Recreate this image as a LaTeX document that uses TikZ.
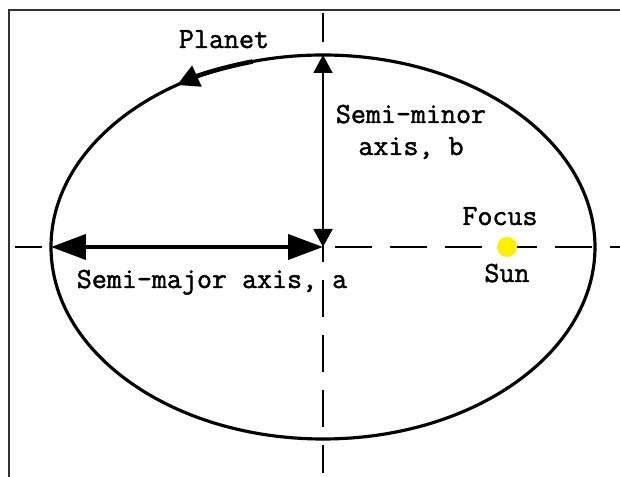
\documentclass[tikz,border=0pt]{standalone}
\usepackage{fontspec}
\newfontfamily\orbitfont{Latin Modern Mono}[FakeBold=1.6]
\definecolor{sunyellow}{RGB}{255,240,0}
\definecolor{framegray}{RGB}{50,50,50}
\usetikzlibrary{arrows.meta}

\begin{document}
\begin{tikzpicture}[x=0.02cm, y=0.02cm,
  lbl/.style={font=\fontsize{16.6}{18.8}\selectfont\orbitfont, inner sep=0pt, anchor=base},
  axisline/.style={line width=0.95pt, dash pattern=on 0.74cm off 0.36cm},
  bigtip/.tip={Triangle[length=0.7cm, width=0.5cm]},
  smalltip/.tip={Triangle[length=0.36cm, width=0.38cm]}]
  \useasboundingbox (0,0) rectangle (620,477);

  % Frame (top and left only)
  \draw[framegray, line width=1.2pt] (620,467) -- (9,467) -- (9,0);

  % Key points of the orbit
  \coordinate (C) at (323,230);
  \coordinate (L) at (51,230);
  \coordinate (T) at (323,422);

  % Dashed axes
  \draw[axisline, dash phase=0.2cm] (15,230) -- (620,230);
  \draw[axisline, dash phase=0.16cm] (323,464) -- (323,4);

  % Orbit
  \draw[line width=1.8pt] (C) ellipse[x radius=272, y radius=192];

  % Planet direction of motion
  \draw[line width=2.6pt, -{Triangle[length=0.44cm, width=0.44cm]}] (C) ++(105:272 and 192) arc[start angle=105, end angle=122.5, x radius=272, y radius=192];

  % Semi-axes
  \draw[line width=1.1pt, smalltip-smalltip] (C) -- (T);
  \draw[line width=2.3pt, bigtip-bigtip] (L) -- (C);

  % Sun at the focus
  \fill[sunyellow] (507,230) circle[radius=10];

  % Labels
  \node[lbl] (planet) at (224,429) {Planet};
  \node[lbl] (minor1) at (411,354) {Semi-minor};
  \node[lbl] (minor2) at (411,322) {axis, b};
  \node[lbl] (major) at (212,189) {Semi-major axis, a};
  \node[lbl] (focus) at (500,252) {Focus};
  \node[lbl] (sun) at (507,195) {Sun};
\end{tikzpicture}
\end{document}
